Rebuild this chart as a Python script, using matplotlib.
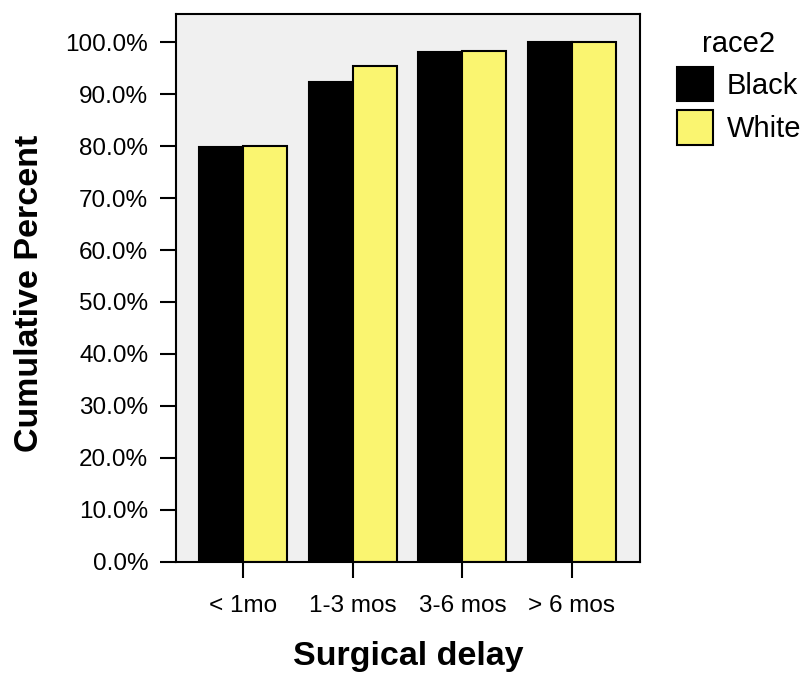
import matplotlib
matplotlib.use("Agg")
import matplotlib.pyplot as plt
import numpy as np

# cumulative percent by surgical delay
categories = ["< 1mo", "1-3 mos", "3-6 mos", "> 6 mos"]
black_pct = [79.9, 92.4, 98.1, 100.0]
white_pct = [80.1, 95.5, 98.3, 100.0]
yticks = np.arange(0, 101, 10)

plt.rcParams['font.family'] = ['Liberation Sans', 'DejaVu Sans']

fig = plt.figure(figsize=(8.09, 6.77), dpi=100)
ax = fig.add_axes([0.2176, 0.1703, 0.5735, 0.8083])
ax.set_facecolor('#F0F0F0')

x = np.arange(len(categories))
w = 0.4
ax.bar(x - w / 2, black_pct, w, color='black', edgecolor='black', linewidth=1.5, label='Black')
ax.bar(x + w / 2, white_pct, w, color='#FAF570', edgecolor='black', linewidth=1.5, label='White')

ax.set_xlim(-0.61, 3.62)
ax.set_ylim(0, 105.35)
ax.set_xticks(x)
ax.set_xticklabels(categories, fontsize=17.5)
ax.set_yticks(yticks)
ax.set_yticklabels([f"{v:.1f}%" for v in yticks], fontsize=17.5)
ax.tick_params(axis='both', length=11.5, width=1.5, color='black')
ax.tick_params(axis='y', pad=8.5)
ax.tick_params(axis='x', pad=12.5)
for s in ax.spines.values():
    s.set_linewidth(1.5)

ax.set_xlabel("Surgical delay", fontsize=24.5, fontweight='bold', va='center')
ax.xaxis.set_label_coords(0.5, -0.174)
ax.set_ylabel("Cumulative Percent", fontsize=24.5, fontweight='bold', va='center')
ax.yaxis.set_label_coords(-0.316, 0.49)

leg = ax.legend(title='race2', loc='upper left', bbox_to_anchor=(677 / 809, 1 - 30 / 677),
                bbox_transform=fig.transFigure, frameon=False, fontsize=21,
                title_fontsize=21, handlelength=1.25, handleheight=1.45,
                handletextpad=0.45, labelspacing=0.3, borderpad=0, borderaxespad=0)

fig.savefig("out.png", dpi=100, facecolor='white')
